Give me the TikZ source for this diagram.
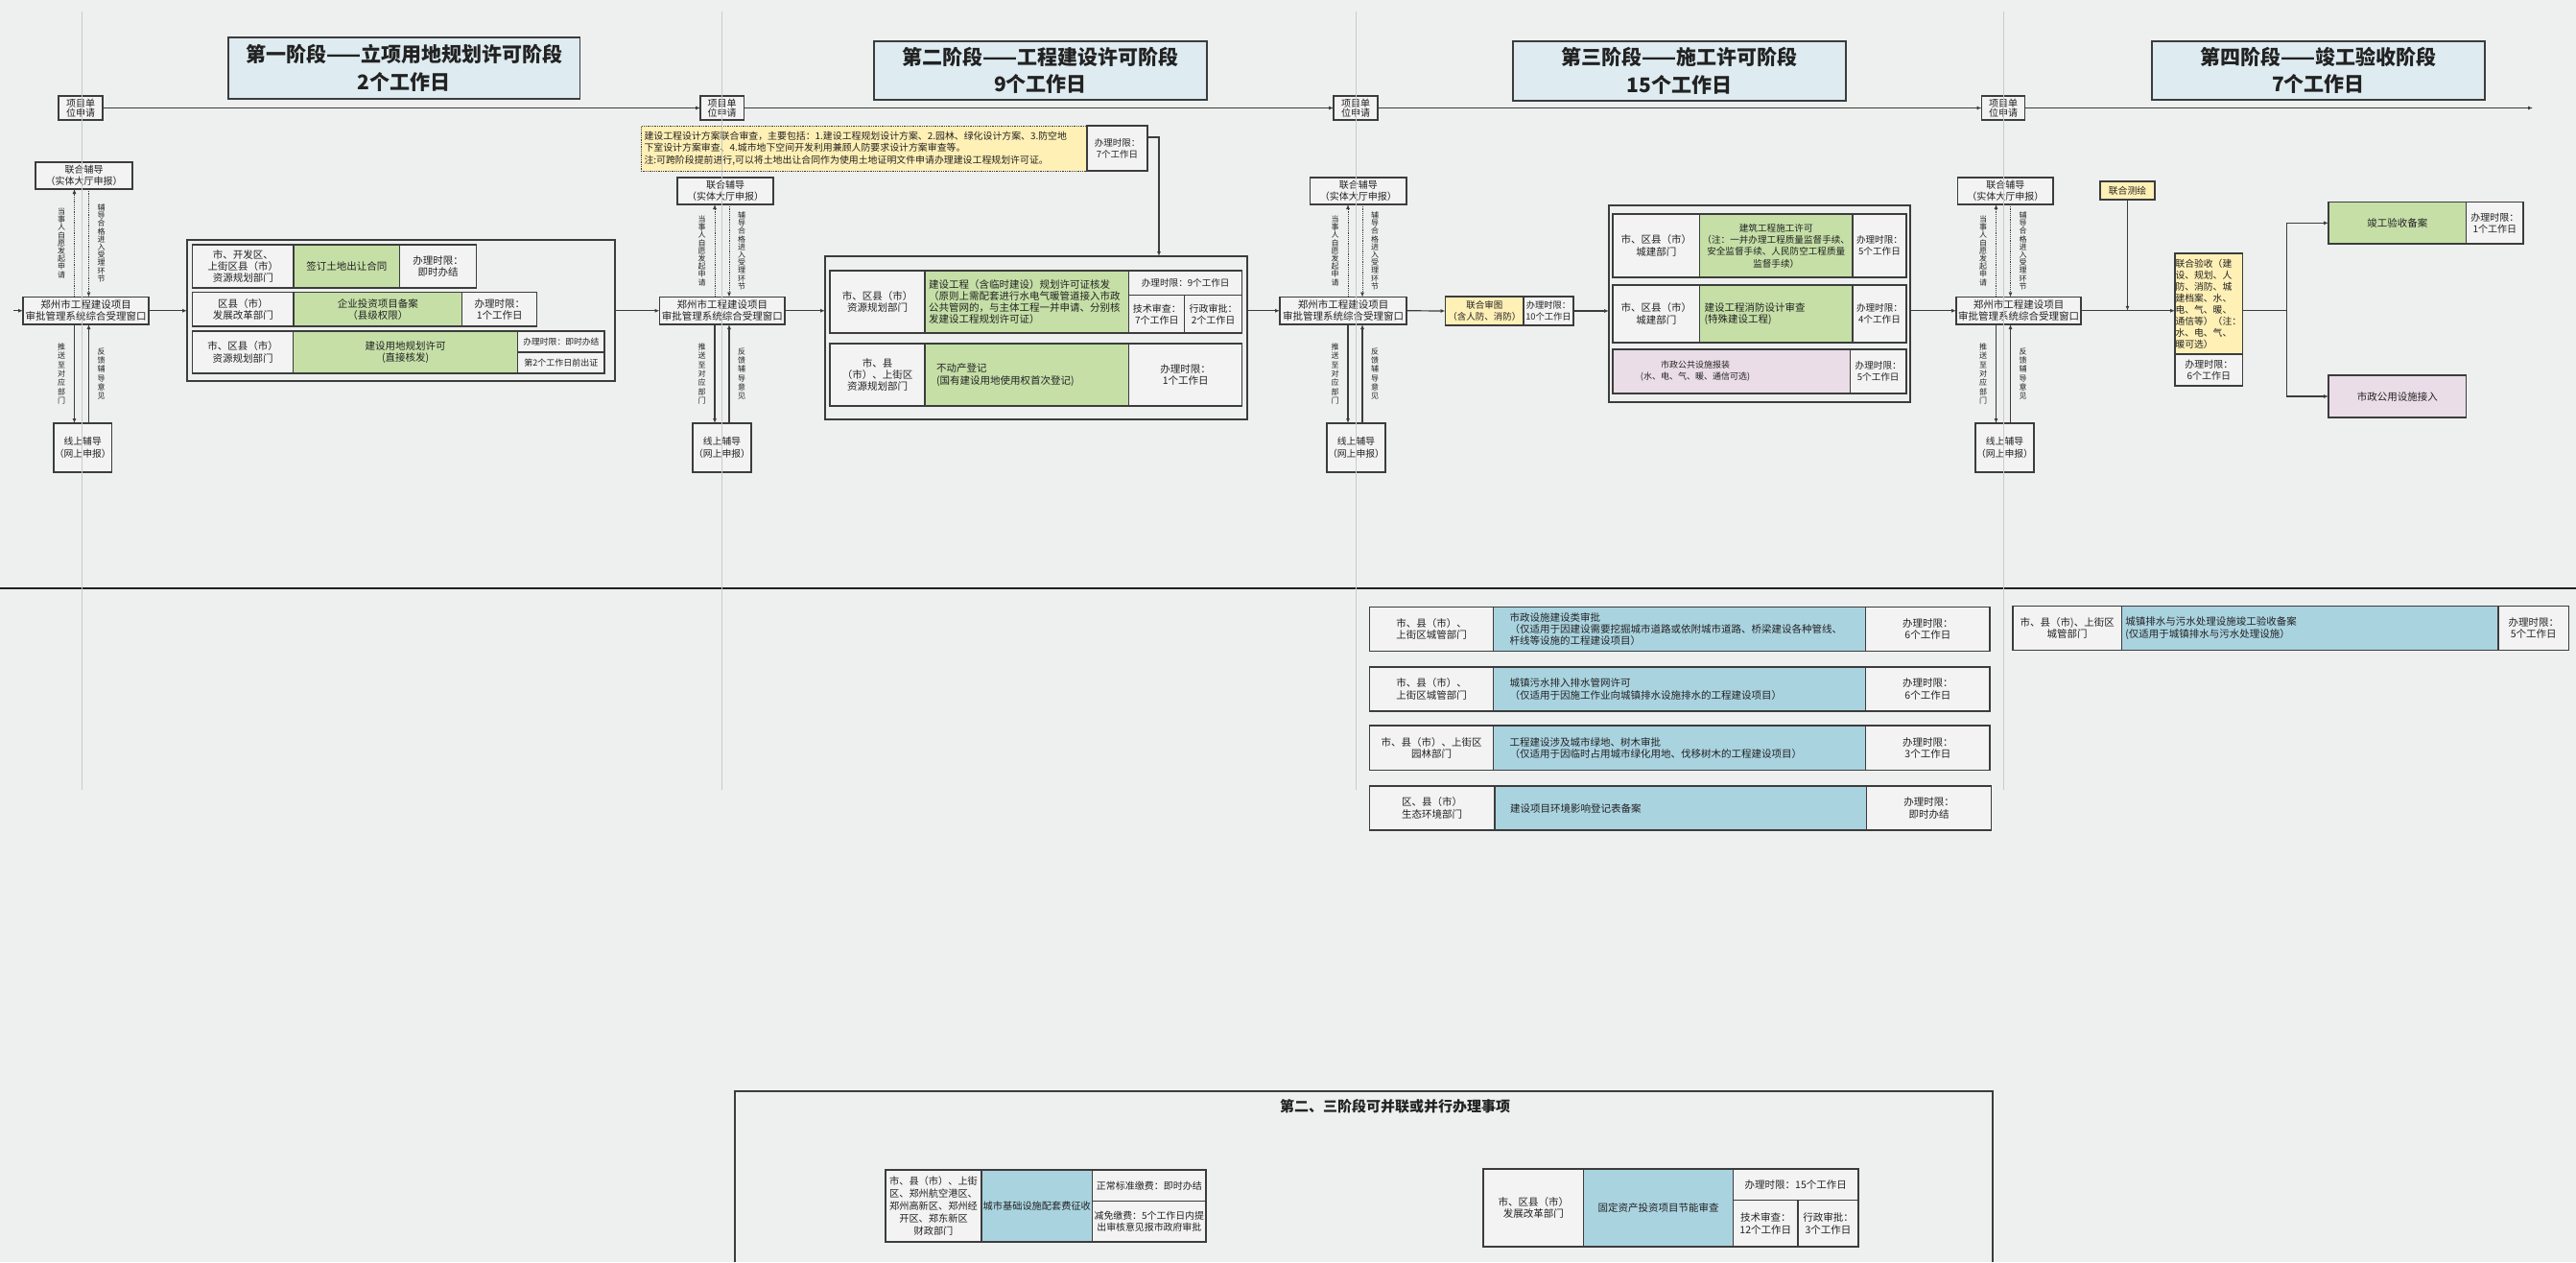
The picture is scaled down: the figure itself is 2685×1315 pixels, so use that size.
\documentclass[tikz,border=0pt]{standalone}
\usepackage{fontspec}
\setmainfont{Noto Sans CJK SC}
\usetikzlibrary{arrows.meta}
\definecolor{bgc}{HTML}{EEF0EF}
\definecolor{bordc}{HTML}{3C3C3C}
\definecolor{cellc}{HTML}{F3F3F3}
\definecolor{titc}{HTML}{DEEBF0}
\definecolor{grnc}{HTML}{C5DFA7}
\definecolor{yelc}{HTML}{FFF0B6}
\definecolor{pnkc}{HTML}{EADDE8}
\definecolor{bluc}{HTML}{AAD3E0}
\definecolor{txtc}{HTML}{222222}
\definecolor{guidec}{HTML}{C9CBCA}
\newcommand{\fsz}[2]{\fontsize{#1pt}{#2pt}\selectfont}
% name, x1, y1, x2, y2, pad, style, text
\newcommand{\bx}[8]{%
  \pgfmathsetmacro\bxw{(#4)-(#2)}%
  \pgfmathsetmacro\bxh{(#5)-(#3)}%
  \pgfmathsetmacro\bxt{\bxw-2*(#6)}%
  \node[inner xsep=#6pt, text width=\bxt pt, minimum width=\bxw pt, minimum height=\bxh pt, anchor=north west, #7] (#1) at (#2,#3) {#8};}
% id, win x1, win x2, uni x1, uni x2, uni y1, onl x1, onl x2, arrow x
\newcommand{\assist}[9]{%
  \pgfmathsetmacro\axb{#9+15}%
  \pgfmathsetmacro\axl{#9-13.5}%
  \pgfmathsetmacro\axr{#9+28}%
  \pgfmathsetmacro\auyb{#6+28}%
  \pgfmathsetmacro\aumid{(\auyb+309.5)/2}%
  \bx{win#1}{#2}{309.5}{#3}{338}{0.5}{cell}{郑州市工程建设项目\\审批管理系统综合受理窗口}%
  \bx{uni#1}{#4}{#6}{#5}{\auyb}{1}{cell, font=\fsz{10}{11.5}}{联合辅导\\（实体大厅申报）}%
  \bx{onl#1}{#7}{441}{#8}{492}{0}{cell, font=\fsz{9.8}{13}}{线上辅导\\（网上申报）}%
  \coordinate (xa#1) at (#9,0);
  \coordinate (xb#1) at (\axb,0);
  \draw[darr] (xa#1 |- win#1.north) -- (xa#1 |- uni#1.south);
  \draw[darr] (xb#1 |- uni#1.south) -- (xb#1 |- win#1.north);
  \draw[arr] (xa#1 |- win#1.south) -- (xa#1 |- onl#1.north);
  \draw[arr] (xb#1 |- onl#1.north) -- (xb#1 |- win#1.south);
  \node[vlab, font=\fsz{8}{8.2}] (lua#1) at (\axl,\aumid) {当\\事\\人\\自\\愿\\发\\起\\申\\请};
  \node[vlab, font=\fsz{8}{8.2}] (lub#1) at (\axr,\aumid) {辅\\导\\合\\格\\进\\入\\受\\理\\环\\节};
  \node[vlab, font=\fsz{8}{9.3}] (lla#1) at (\axl,389.5) {推\\送\\至\\对\\应\\部\\门};
  \node[vlab, font=\fsz{8}{9.3}] (llb#1) at (\axr,389.5) {反\\馈\\辅\\导\\意\\见};
}
\begin{document}
\begin{tikzpicture}[x=1pt,y=-1pt,
  cell/.style={draw=bordc, line width=1.3pt, fill=cellc, text=txtc, outer sep=0pt, inner ysep=0pt, align=center, font=\fsz{10.5}{12.3}},
  grn/.style={cell, fill=grnc},
  yel/.style={cell, fill=yelc},
  pnk/.style={cell, fill=pnkc},
  blu/.style={cell, fill=bluc},
  grp/.style={draw=bordc, line width=1.4pt, outer sep=0pt, inner ysep=0pt},
  ttl/.style={cell, fill=titc, line width=1.8pt, font=\fsz{21}{28.5}\bfseries},
  conn/.style={draw=bordc, line width=1.2pt},
  arr/.style={conn, -{Latex[length=5pt,width=4pt]}},
  darr/.style={arr, densely dotted, line width=0.8pt},
  vlab/.style={text=txtc, inner sep=0pt, align=center}]
\fill[bgc] (0,0) rectangle (2685,1315);
\useasboundingbox (0,0) rectangle (2685,1315);

% ---------- titles ----------
\bx{title1}{237.6}{39}{604.5}{102.7}{2}{ttl}{第一阶段——立项用地规划许可阶段\\2个工作日}
\bx{title2}{911}{43}{1258}{104}{2}{ttl}{第二阶段——工程建设许可阶段\\9个工作日}
\bx{title3}{1577}{43}{1924}{105}{2}{ttl}{第三阶段——施工许可阶段\\15个工作日}
\bx{title4}{2243}{43}{2590}{104}{2}{ttl}{第四阶段——竣工验收阶段\\7个工作日}

% ---------- project application line ----------
\bx{proj1}{61}{100}{107}{125}{0}{cell, font=\fsz{10}{10.5}}{项目单\\位申请}
\bx{proj2}{730}{100}{775.4}{125}{0}{cell, font=\fsz{10}{10.5}}{项目单\\位申请}
\bx{proj3}{1390}{100}{1436}{125}{0}{cell, font=\fsz{10}{10.5}}{项目单\\位申请}
\bx{proj4}{2065.5}{100}{2110.5}{125}{0}{cell, font=\fsz{10}{10.5}}{项目单\\位申请}
\coordinate (lineend) at (2640,112.5);
\draw[arr] (proj1.east) -- (proj2.west);
\draw[arr] (proj2.east) -- (proj3.west);
\draw[arr] (proj3.east) -- (proj4.west);
\draw[arr] (proj4.east) -- (lineend);

% ---------- assist modules ----------
\assist{1}{24}{155}{37}{138}{169}{56}{116.5}{77.5}
\assist{2}{687.5}{818}{706}{806}{185}{722}{783}{745}
\assist{3}{1334}{1466}{1365.6}{1466}{185}{1383}{1444}{1405}
\assist{4}{2039}{2169}{2040.6}{2140}{185}{2059}{2120}{2080.5}
\coordinate (in1) at (14,323.75);
\draw[arr] (in1) -- (win1.west);

% ---------- stage 1 ----------
\bx{grp1}{195}{250}{641}{397}{2}{grp}{}
\bx{r11a}{200.7}{255}{306}{300}{1}{cell}{市、开发区、\\上街区县（市）\\资源规划部门}
\bx{r11b}{306}{255}{416.7}{300}{1}{grn}{签订土地出让合同}
\bx{r11c}{416.7}{255}{496.7}{300}{1}{cell}{办理时限：\\即时办结}
\bx{r12a}{200.7}{304.7}{306}{340}{1}{cell}{区县（市）\\发展改革部门}
\bx{r12b}{306}{304.7}{481.8}{340}{1}{grn}{企业投资项目备案\\（县级权限）}
\bx{r12c}{481.8}{304.7}{559.7}{340}{1}{cell}{办理时限：\\1个工作日}
\bx{r13a}{200.7}{345}{305.6}{389}{1}{cell}{市、区县（市）\\资源规划部门}
\bx{r13b}{305.6}{345}{539.8}{389}{1}{grn}{建设用地规划许可\\(直接核发)}
\bx{r13c}{539.8}{345}{630}{367}{0.5}{cell, font=\fsz{8.8}{10}}{办理时限：即时办结}
\bx{r13d}{539.8}{367}{630}{389}{0.5}{cell, font=\fsz{9}{10}}{第2个工作日前出证}

% ---------- stage 2 ----------
\bx{note}{668}{131}{1133}{178}{3.5}{yel, densely dotted, line width=1pt, align=left, font=\fsz{9.9}{12.3}}{建设工程设计方案联合审查，主要包括：1.建设工程规划设计方案、2.园林、绿化设计方案、3.防空地\\下室设计方案审查、4.城市地下空间开发利用兼顾人防要求设计方案审查等。\\注:可跨阶段提前进行,可以将土地出让合同作为使用土地证明文件申请办理建设工程规划许可证。}
\bx{ntime}{1133}{131}{1196}{178}{0.5}{cell, font=\fsz{9.5}{12}}{办理时限：\\7个工作日}
\bx{grp2}{860}{267}{1300}{437}{2}{grp}{}
\bx{r21a}{865}{282}{964}{347}{1}{cell}{市、区县（市）\\资源规划部门}
\bx{r21b}{964}{282}{1176.8}{347}{4}{grn, align=left}{建设工程（含临时建设）规划许可证核发\\（原则上需配套进行水电气暖管道接入市政\\公共管网的，与主体工程一并申请、分别核\\发建设工程规划许可证）}
\bx{r21c}{1176.8}{282}{1294.6}{307.7}{0.5}{cell, font=\fsz{9.6}{12}}{办理时限：9个工作日}
\bx{r21d}{1176.8}{307.7}{1234.8}{347}{0.5}{cell, font=\fsz{10}{12}}{技术审查：\\7个工作日}
\bx{r21e}{1234.8}{307.7}{1294.6}{347}{0.5}{cell, font=\fsz{10}{12}}{行政审批：\\2个工作日}
\bx{r22a}{865}{358}{964}{423}{1}{cell}{市、县\\（市）、上街区\\资源规划部门}
\bx{r22b}{964}{358}{1176.8}{423}{12}{grn, align=left}{不动产登记\\(国有建设用地使用权首次登记)}
\bx{r22c}{1176.8}{358}{1294.6}{423}{1}{cell}{办理时限：\\1个工作日}
\coordinate (nb) at (1208,143);
\draw[arr] (ntime.east |- nb) -- (nb) -- (nb |- grp2.north);

% ---------- stage 3 ----------
\bx{shentu}{1506.5}{309}{1588}{339}{0.5}{yel, font=\fsz{9.5}{12}}{联合审图\\（含人防、消防）}
\bx{stime}{1588}{309}{1640}{339}{0}{cell, font=\fsz{9.3}{12}}{办理时限：\\10个工作日}
\bx{grp3}{1677}{214}{1991}{419}{2}{grp}{}
\bx{r31a}{1681}{223}{1771.5}{289}{1}{cell}{市、区县（市）\\城建部门}
\bx{r31b}{1771.5}{223}{1931}{289}{0.5}{grn, font=\fsz{9.6}{12.3}}{建筑工程施工许可\\（注：一并办理工程质量监督手续、\\安全监督手续、人民防空工程质量\\监督手续）}
\bx{r31c}{1931}{223}{1987}{289}{0.5}{cell, font=\fsz{9.6}{12}}{办理时限：\\5个工作日}
\bx{r32a}{1681}{297}{1771.5}{357}{1}{cell}{市、区县（市）\\城建部门}
\bx{r32b}{1771.5}{297}{1931}{357}{5}{grn, align=left}{建设工程消防设计审查\\(特殊建设工程)}
\bx{r32c}{1931}{297}{1987}{357}{0.5}{cell, font=\fsz{9.6}{12}}{办理时限：\\4个工作日}
\bx{r33a}{1681}{364}{1928.4}{410}{1}{pnk}{}
\node[vlab, font=\fsz{9}{12}] (r33t) at (1767,387) {市政公共设施报装\\(水、电、气、暖、通信可选)};
\bx{r33c}{1928.4}{364}{1987}{410}{0.5}{cell, font=\fsz{9.6}{12}}{办理时限：\\5个工作日}

% ---------- stage 4 ----------
\bx{cehui}{2189}{189}{2246}{208}{0}{yel, font=\fsz{9.8}{11}}{联合测绘}
\bx{ys}{2267}{264}{2337.7}{369}{0.5}{yel, align=left, font=\fsz{9.8}{12}}{联合验收（建\\设、规划、人\\防、消防、城\\建档案、水、\\电、气、暖、\\通信等）（注：\\水、电、气、\\暖可选）}
\bx{ystime}{2267}{369}{2337.7}{402}{0.5}{cell, font=\fsz{10}{12}}{办理时限：\\6个工作日}
\bx{beian}{2427}{210.7}{2570.5}{254}{1}{grn}{竣工验收备案}
\bx{batime}{2570.5}{210.7}{2630}{254}{0.5}{cell, font=\fsz{10}{12}}{办理时限：\\1个工作日}
\bx{jieru}{2427}{391}{2570.5}{435}{1}{pnk}{市政公用设施接入}
\coordinate (sp) at (2383.6,323.75);

% ---------- main flow connectors ----------
\draw[arr] (win1.east) -- (win1.east -| grp1.west);
\draw[arr] (grp1.east |- win2.west) -- (win2.west);
\draw[arr] (win2.east) -- (win2.east -| grp2.west);
\draw[arr] (grp2.east |- win3.west) -- (win3.west);
\draw[arr] (win3.east) -- (shentu.west);
\draw[arr] (stime.east) -- (stime.east -| grp3.west);
\draw[arr] (grp3.east |- win4.west) -- (win4.west);
\draw[arr] (win4.east) -- (win4.east -| ys.west);
\draw[arr] (cehui.south) -- (cehui.south |- win4.east);
\draw[conn] (ys.east |- sp) -- (sp);
\draw[arr] (sp) |- (beian.west);
\draw[arr] (sp) |- (jieru.west);

% ---------- separator ----------
\coordinate (sepl) at (0,613);
\coordinate (sepr) at (2685,613);
\draw[draw=txtc, line width=2.5pt] (sepl) -- (sepr);

% ---------- lower tables ----------
\bx{ta1}{1427.4}{632.7}{1556.6}{678.3}{1}{cell}{市、县（市）、\\上街区城管部门}
\bx{tb1}{1556.6}{632.7}{1944.7}{678.3}{17}{blu, align=left}{市政设施建设类审批\\（仅适用于因建设需要挖掘城市道路或依附城市道路、桥梁建设各种管线、\\杆线等设施的工程建设项目）}
\bx{tc1}{1944.7}{632.7}{2074}{678.3}{1}{cell}{办理时限：\\6个工作日}
\bx{ta2}{1427.4}{695}{1556.6}{741}{1}{cell}{市、县（市）、\\上街区城管部门}
\bx{tb2}{1556.6}{695}{1944.7}{741}{17}{blu, align=left}{城镇污水排入排水管网许可\\（仅适用于因施工作业向城镇排水设施排水的工程建设项目）}
\bx{tc2}{1944.7}{695}{2074}{741}{1}{cell}{办理时限：\\6个工作日}
\bx{ta3}{1427.4}{756}{1556.6}{802.7}{1}{cell}{市、县（市）、上街区\\园林部门}
\bx{tb3}{1556.6}{756}{1944.7}{802.7}{17}{blu, align=left}{工程建设涉及城市绿地、树木审批\\（仅适用于因临时占用城市绿化用地、伐移树木的工程建设项目）}
\bx{tc3}{1944.7}{756}{2074}{802.7}{1}{cell}{办理时限：\\3个工作日}
\bx{ta4}{1427.4}{819}{1558}{865}{1}{cell}{区、县（市）\\生态环境部门}
\bx{tb4}{1558}{819}{1945.6}{865}{16}{blu, align=left}{建设项目环境影响登记表备案}
\bx{tc4}{1945.6}{819}{2075.7}{865}{1}{cell}{办理时限：\\即时办结}
\bx{ta5}{2098}{631.7}{2211.4}{677.3}{1}{cell}{市、县（市)、上街区\\城管部门}
\bx{tb5}{2211.4}{631.7}{2604}{677.3}{4}{blu, align=left}{城镇排水与污水处理设施竣工验收备案\\(仅适用于城镇排水与污水处理设施）}
\bx{tc5}{2604}{631.7}{2677.5}{677.3}{1}{cell}{办理时限：\\5个工作日}

% ---------- parallel items frame ----------
\coordinate (pfl) at (766,1315);
\coordinate (pfr) at (2077,1315);
\coordinate (pft) at (2077,1137);
\draw[draw=bordc, line width=1.4pt] (pfl) |- (pft) -- (pfr);
\node[font=\fsz{15}{18}\bfseries, text=txtc, inner sep=0pt] (ptitle) at (1454,1153) {第二、三阶段可并联或并行办理事项};
\bx{pa1}{923}{1219}{1023}{1294}{0.5}{cell, font=\fsz{10.2}{13}}{市、县（市）、上街\\区、郑州航空港区、\\郑州高新区、郑州经\\开区、郑东新区\\财政部门}
\bx{pb1}{1023}{1219}{1138.6}{1294}{0}{blu, font=\fsz{10.2}{12}}{城市基础设施配套费征收}
\bx{pc1}{1138.6}{1219}{1257}{1251.7}{0}{cell, font=\fsz{10}{12}}{正常标准缴费：即时办结}
\bx{pd1}{1138.6}{1251.7}{1257}{1294}{0}{cell, font=\fsz{9.9}{12.5}}{减免缴费：5个工作日内提\\出审核意见报市政府审批}
\bx{pa2}{1546}{1218}{1650.7}{1299}{1}{cell}{市、区县（市）\\发展改革部门}
\bx{pb2}{1650.7}{1218}{1806.5}{1299}{1}{blu}{固定资产投资项目节能审查}
\bx{pc2}{1806.5}{1218}{1937}{1250.7}{1}{cell}{办理时限：15个工作日}
\bx{pd2}{1806.5}{1250.7}{1874}{1299}{0.5}{cell}{技术审查：\\12个工作日}
\bx{pe2}{1874}{1250.7}{1937}{1299}{0.5}{cell}{行政审批：\\3个工作日}

% ---------- faint guide lines ----------
\foreach \gx/\gn in {85/g1, 752.7/g2, 1413/g3, 2088.5/g4} {
  \coordinate (\gn t) at (\gx,12);
  \coordinate (\gn b) at (\gx,823);
  \draw[guidec, line width=0.8pt] (\gn t) -- (\gn b);
}
\end{tikzpicture}
\end{document}
